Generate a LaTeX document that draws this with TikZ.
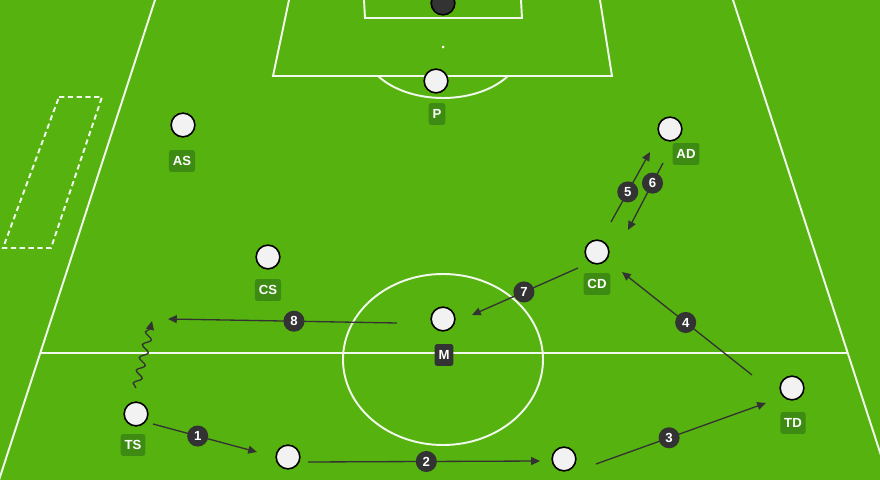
\documentclass[tikz,border=0pt]{standalone}
\usepackage{fontspec}
\setmainfont{Liberation Sans}
\usetikzlibrary{arrows.meta,decorations.pathmorphing}
\definecolor{pitch}{HTML}{56B20F}
\definecolor{tagbg}{HTML}{3D8B12}
\definecolor{ink}{HTML}{333333}
\definecolor{shirt}{HTML}{F2F2F2}

\begin{document}
\begin{tikzpicture}[x=0.02cm, y=0.02cm]
		\tikzstyle{mark line}=[white!92!pitch, line width=1.1pt]
		\tikzstyle{player}=[circle, draw=black, fill=shirt, line width=0.9pt, minimum size=13.5pt, inner sep=0pt]
		\tikzstyle{plate}=[fill=tagbg, rounded corners=1.5pt, text=white, font=\fontsize{7.5}{8}\selectfont\bfseries, inner xsep=2.2pt, inner ysep=0pt, minimum height=12.5pt]
		\tikzstyle{badge}=[circle, fill=ink, text=white, font=\fontsize{7.5}{8}\selectfont\bfseries, minimum size=12pt, inner sep=0pt]
		\tikzstyle{pass}=[ink, line width=0.75pt, -{Triangle[length=5pt,width=4.5pt]}]
		\fill [pitch] (0,0) rectangle (880,-480);
		\clip (0,0) rectangle (880,-480);
		% pitch markings
		\draw [mark line] (155,0) -- (-1,-480);
		\draw [mark line] (733,0) -- (889,-480);
		\draw [mark line] (40,-353) -- (848,-353);
		\draw [mark line] (443,-359.5) ellipse [x radius=100, y radius=85.5];
		\draw [mark line] (289,0) -- (273,-76) -- (612,-76) -- (600,0);
		\draw [mark line] (364,0) -- (365,-18) -- (522,-18) -- (521,0);
		\fill [white] (443,-47) circle (1.5);
		\draw [mark line] (443,-47) ++(-145.3:79 and 51) arc [start angle=-145.3, end angle=-34.7, x radius=79, y radius=51];
		\draw [mark line, dash pattern=on 3pt off 2pt] (59,-97) -- (102,-97) -- (51,-248) -- (3,-248) -- cycle;
		% players
		\node [player, fill=ink] (GK) at (443,-3) {};
		\node [player] (P) at (436,-81) {};
		\node [plate] (tP) at (437,-114) {P};
		\node [player] (AS) at (183,-125) {};
		\node [plate] (tAS) at (182,-161) {AS};
		\node [player] (AD) at (670,-129) {};
		\node [plate] (tAD) at (686,-154) {AD};
		\node [player] (CS) at (268,-257) {};
		\node [plate] (tCS) at (268,-290) {CS};
		\node [player] (CD) at (597,-252) {};
		\node [plate] (tCD) at (597,-284) {CD};
		\node [player] (M) at (443,-319) {};
		\node [plate, fill=ink] (tM) at (444,-355) {M};
		\node [player] (TD) at (792,-388) {};
		\node [plate] (tTD) at (793,-423) {TD};
		\node [player] (TS) at (136,-414) {};
		\node [plate] (tTS) at (133,-445) {TS};
		\node [player] (BL) at (288,-457) {};
		\node [player] (BR) at (564,-459) {};
		% passes
		\coordinate (s1) at (153,-424);
		\coordinate (e1) at (257,-452);
		\coordinate (s2) at (308,-462);
		\coordinate (e2) at (540,-461);
		\coordinate (s3) at (596,-464);
		\coordinate (e3) at (766,-403);
		\coordinate (s4) at (752,-375);
		\coordinate (e4) at (622,-272);
		\coordinate (s5) at (611,-222);
		\coordinate (e5) at (650,-152);
		\coordinate (s6) at (663,-163);
		\coordinate (e6) at (628,-230);
		\coordinate (s7) at (578,-268);
		\coordinate (e7) at (472,-315);
		\coordinate (s8) at (397,-323);
		\coordinate (e8) at (168,-319);
		\coordinate (w0) at (136,-388);
		\coordinate (w1) at (152,-321);
		\draw [pass] (s1) -- node [badge, pos=0.43] (n1) {1} (e1);
		\draw [pass] (s2) -- node [badge, pos=0.51] (n2) {2} (e2);
		\draw [pass] (s3) -- node [badge, pos=0.43] (n3) {3} (e3);
		\draw [pass] (s4) -- node [badge, pos=0.51] (n4) {4} (e4);
		\draw [pass] (s5) -- node [badge, pos=0.43] (n5) {5} (e5);
		\draw [pass] (s6) -- node [badge, pos=0.3] (n6) {6} (e6);
		\draw [pass] (s7) -- node [badge, pos=0.51] (n7) {7} (e7);
		\draw [pass] (s8) -- node [badge, pos=0.45] (n8) {8} (e8);
		\draw [pass, decorate, decoration={snake, amplitude=2.2pt, segment length=7.5pt, post length=4pt}] (w0) -- (w1);
	\end{tikzpicture}
\end{document}
